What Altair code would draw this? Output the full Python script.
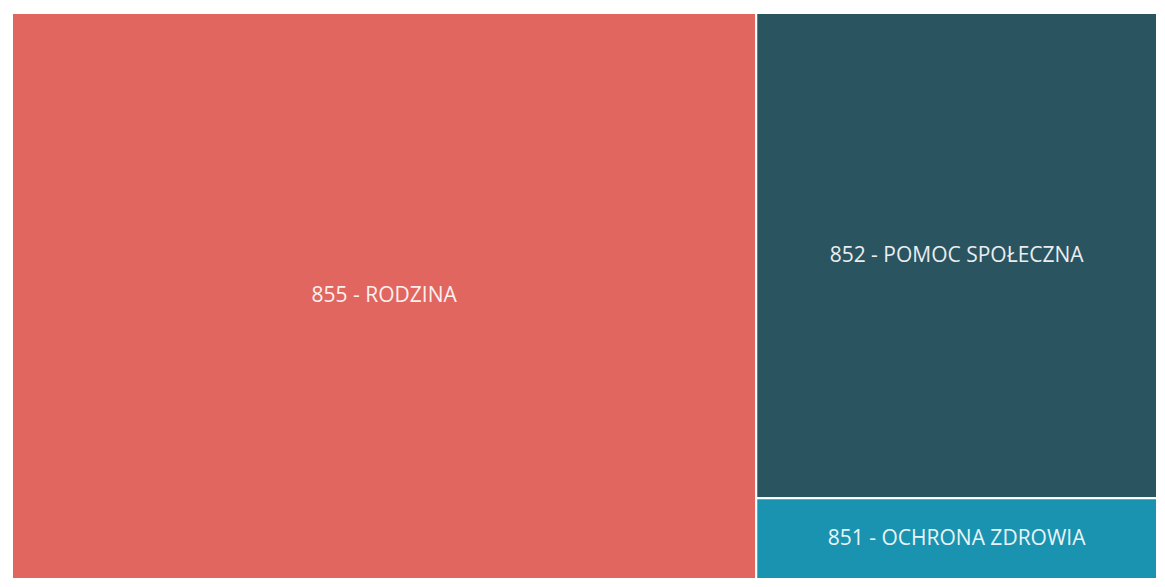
import altair as alt
import pandas as pd

categories = ["855 - RODZINA", "852 - POMOC SPOŁECZNA", "851 - OCHRONA ZDROWIA"]
values = [65.0, 30.0, 5.0]
columns = [0, 1, 1]
colors = ["#E1665F", "#2B5461", "#1A93B1"]

# slice-and-dice treemap layout computed from the values
total = sum(values)
col_tot = {}
for c, v in zip(columns, values):
    col_tot[c] = col_tot.get(c, 0) + v
col_x0 = {}
acc = 0
for c in sorted(col_tot):
    col_x0[c] = acc
    acc += col_tot[c]
rows = []
col_y = {c: 0.0 for c in col_tot}
for cat, v, c in zip(categories, values, columns):
    share = v / col_tot[c]
    y0 = col_y[c]
    y1 = y0 + share
    col_y[c] = y1
    x0 = col_x0[c]
    x1 = x0 + col_tot[c]
    rows.append(dict(cat=cat, value=v, x0=x0, x1=x1, y0=1 - y0, y1=1 - y1,
                     xc=(x0 + x1) / 2, yc=1 - (y0 + y1) / 2))
df = pd.DataFrame(rows)

xs = alt.Scale(domain=[0, total], nice=False, zero=False)
ys = alt.Scale(domain=[0, 1], nice=False, zero=False)

rects = alt.Chart(df).mark_rect(stroke="white", strokeWidth=2).encode(
    x=alt.X("x0:Q", scale=xs, axis=None),
    x2="x1:Q",
    y=alt.Y("y0:Q", scale=ys, axis=None),
    y2="y1:Q",
    color=alt.Color("cat:N", scale=alt.Scale(domain=categories, range=colors), legend=None),
)
labels = alt.Chart(df).mark_text(color="white", font="Open Sans", fontSize=21,
                                 align="center", baseline="middle", opacity=0.9).encode(
    x=alt.X("xc:Q", scale=xs, axis=None),
    y=alt.Y("yc:Q", scale=ys, axis=None),
    text="cat:N",
)

chart = (rects + labels).properties(
    width=1145, height=566,
    autosize=alt.AutoSizeParams(type="none"),
    padding={"left": 4, "top": 5, "right": 0, "bottom": 0},
).configure_view(stroke=None)

chart.save("out.html", embed_options={"renderer": "svg", "actions": False})
